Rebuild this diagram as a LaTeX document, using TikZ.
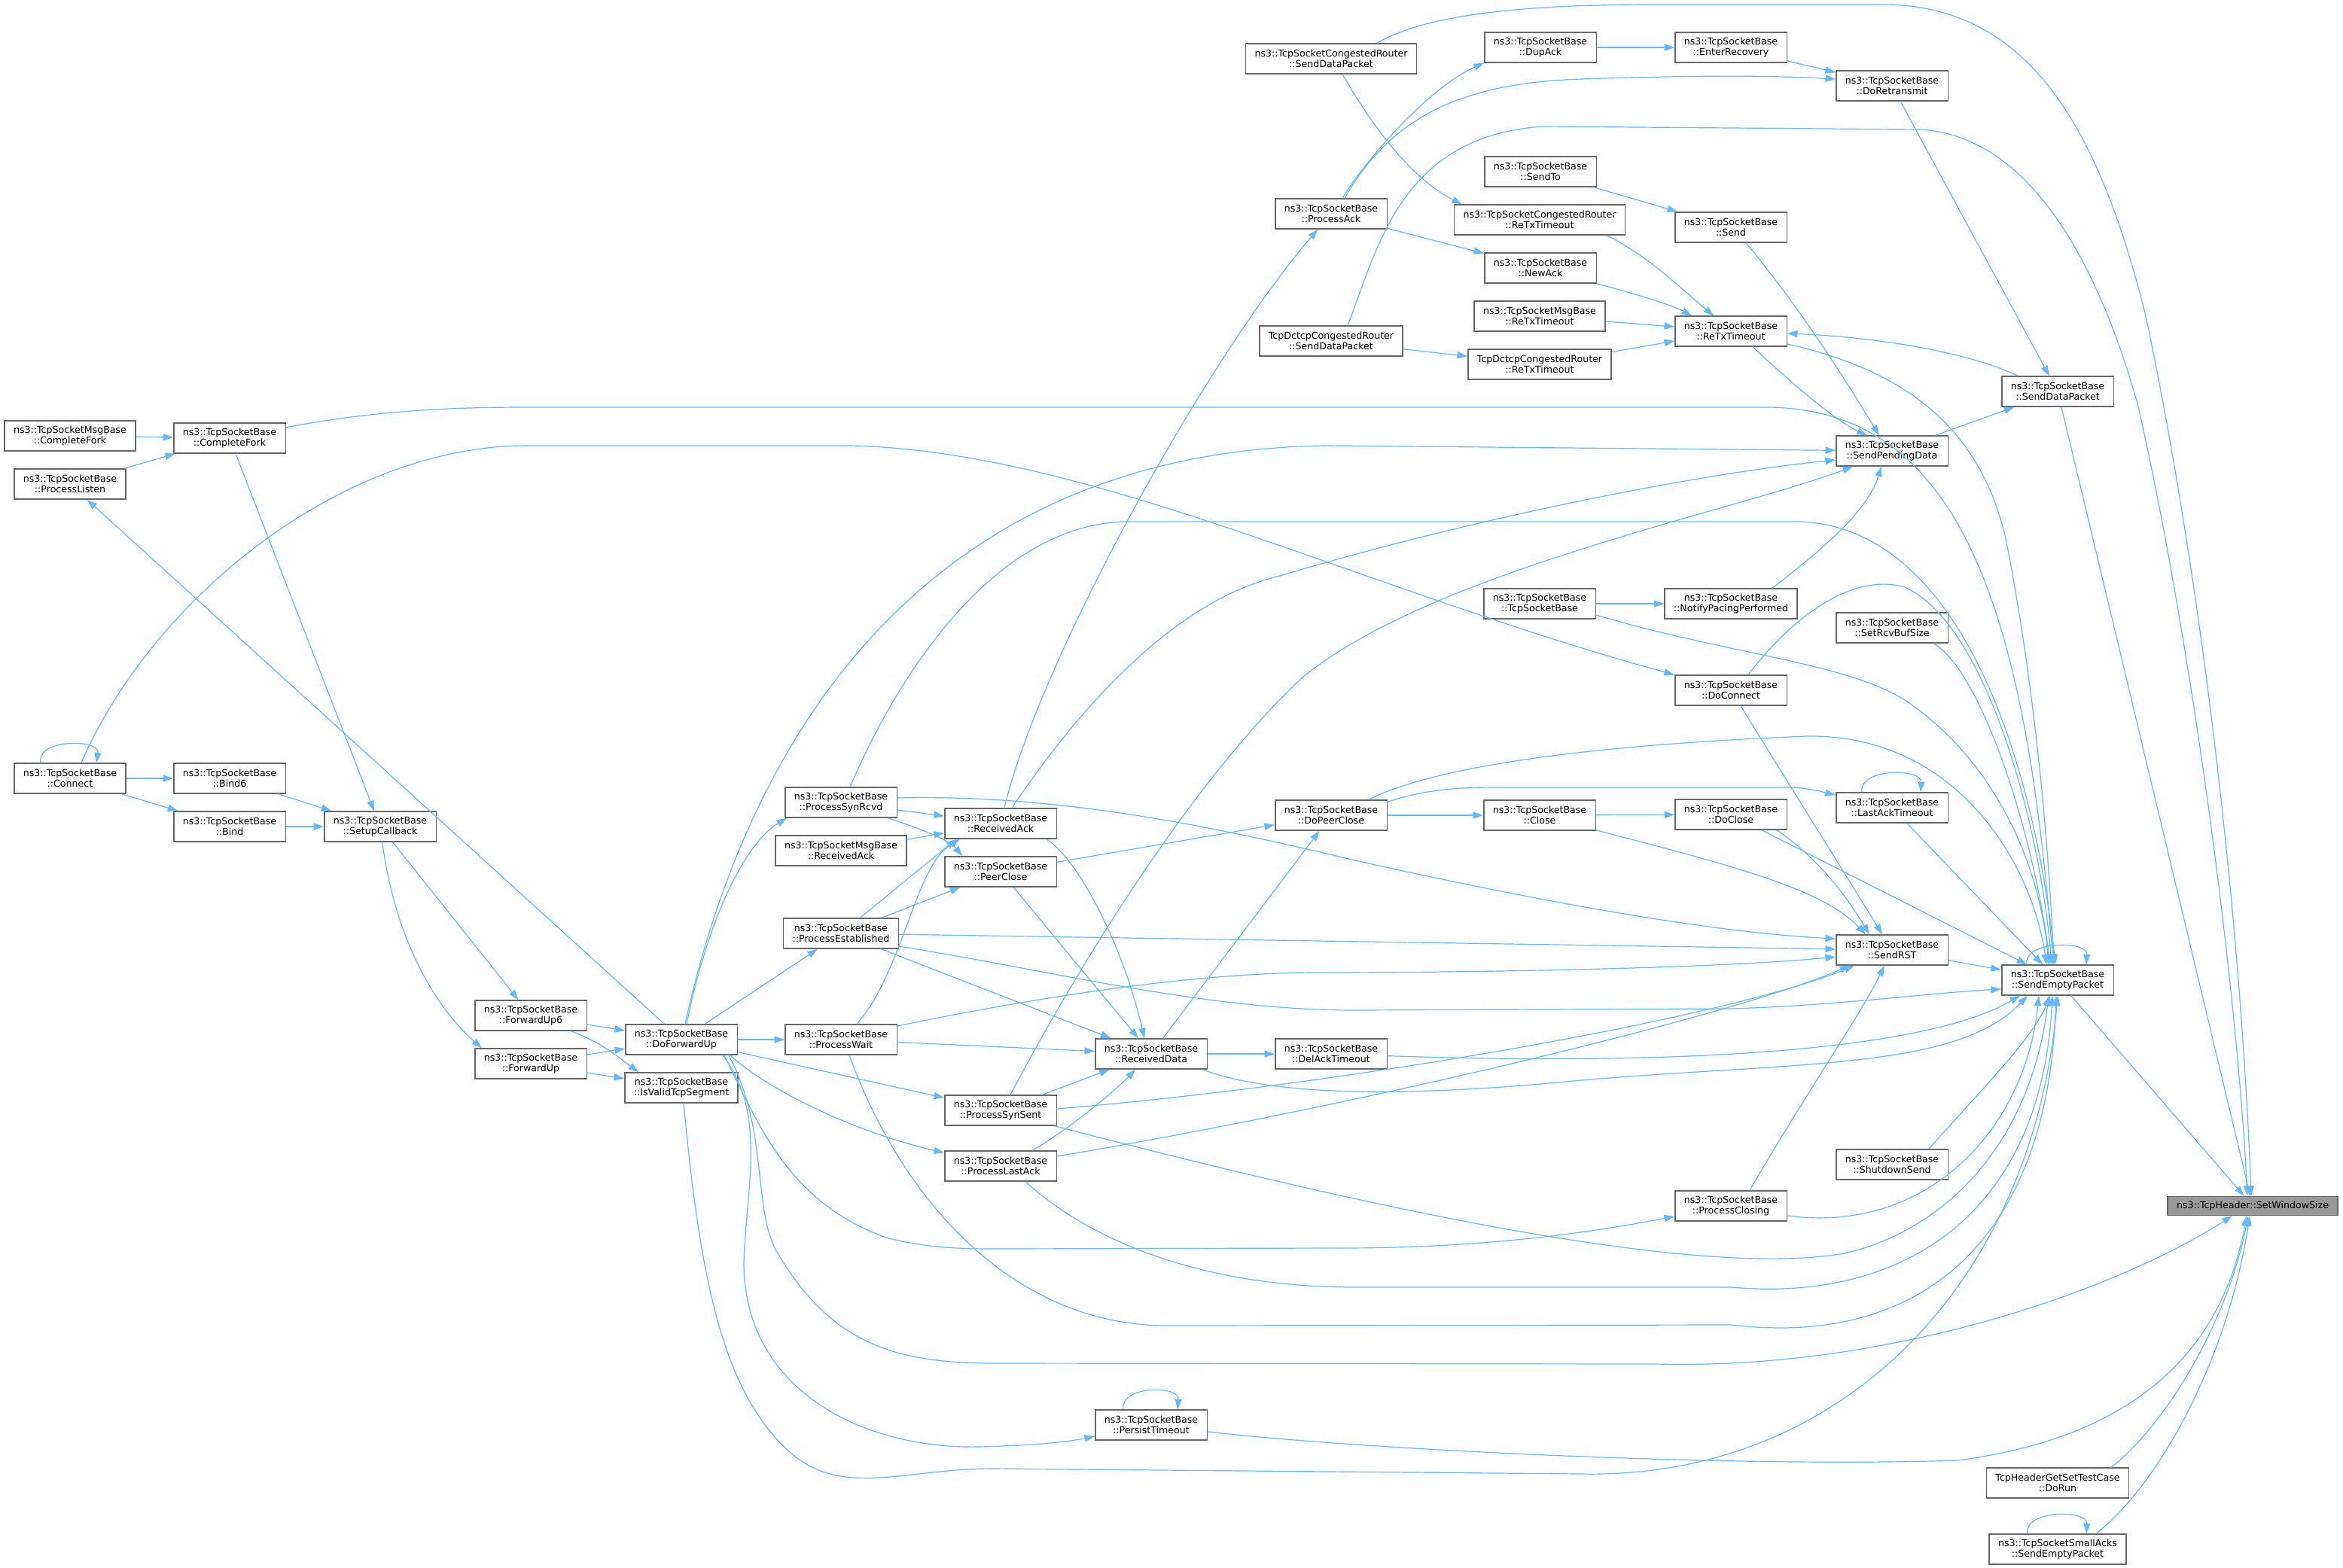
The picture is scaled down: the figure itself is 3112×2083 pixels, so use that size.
\documentclass[tikz,border=0pt]{standalone}
\usepackage{fontspec}
\setmainfont{DejaVu Sans}
\usetikzlibrary{arrows.meta,calc}
\definecolor{edgeblue}{HTML}{63B8FF}
\definecolor{boxgray}{HTML}{666666}
\definecolor{targetfill}{HTML}{999999}
\begin{document}
\begin{tikzpicture}[x=0.5pt,y=-0.5pt,
  fbox/.style={draw=boxgray,line width=0.7pt,fill=white,align=center,
    font=\fontsize{6.3pt}{7.2pt}\selectfont,inner xsep=6pt,inner ysep=1pt,minimum height=20pt},
  tg/.style={fbox,fill=targetfill,minimum height=12.5pt},
  arr/.style={draw=edgeblue,line width=0.6pt,-{Triangle[length=6.8pt,width=4.6pt]}}]
\useasboundingbox (0,0) rectangle (3112,2083);
\fill[white] (0,0) rectangle (3112,2083);

% ---------- nodes ----------
\node[tg] (setw) at (2992,1602) {ns3::TcpHeader::SetWindowSize};
\node[fbox] (crsend) at (1768,78) {ns3::TcpSocketCongestedRouter\\::SendDataPacket};
\node[fbox] (dupack) at (2046,63) {ns3::TcpSocketBase\\::DupAck};
\node[fbox] (enterrec) at (2299,63) {ns3::TcpSocketBase\\::EnterRecovery};
\node[fbox] (doretx) at (2513,114) {ns3::TcpSocketBase\\::DoRetransmit};
\node[fbox] (sendto) at (2046,228) {ns3::TcpSocketBase\\::SendTo};
\node[fbox] (crretx) at (2045,292) {ns3::TcpSocketCongestedRouter\\::ReTxTimeout};
\node[fbox] (send) at (2299,302) {ns3::TcpSocketBase\\::Send};
\node[fbox] (procack) at (1768,284) {ns3::TcpSocketBase\\::ProcessAck};
\node[fbox] (newack) at (2046,356) {ns3::TcpSocketBase\\::NewAck};
\node[fbox] (msgretx) at (2045,420) {ns3::TcpSocketMsgBase\\::ReTxTimeout};
\node[fbox] (retx) at (2299,440) {ns3::TcpSocketBase\\::ReTxTimeout};
\node[fbox] (dctcpsend) at (1768,453) {TcpDctcpCongestedRouter\\::SendDataPacket};
\node[fbox] (dctcpretx) at (2045,484) {TcpDctcpCongestedRouter\\::ReTxTimeout};
\node[fbox] (senddata) at (2733,520) {ns3::TcpSocketBase\\::SendDataPacket};
\node[fbox] (sendpend) at (2513,599) {ns3::TcpSocketBase\\::SendPendingData};
\node[fbox] (msgfork) at (93,579) {ns3::TcpSocketMsgBase\\::CompleteFork};
\node[fbox] (fork) at (305,582) {ns3::TcpSocketBase\\::CompleteFork};
\node[fbox] (listen) at (93,643) {ns3::TcpSocketBase\\::ProcessListen};
\node[fbox] (tsb) at (2045,802) {ns3::TcpSocketBase\\::TcpSocketBase};
\node[fbox] (pacing) at (2299,802) {ns3::TcpSocketBase\\::NotifyPacingPerformed};
\node[fbox] (setrcv) at (2513,834) {ns3::TcpSocketBase\\::SetRcvBufSize};
\node[fbox] (doconnect) at (2299,917) {ns3::TcpSocketBase\\::DoConnect};
\node[fbox] (connect) at (93,1034) {ns3::TcpSocketBase\\::Connect};
\node[fbox] (bind6) at (305,1034) {ns3::TcpSocketBase\\::Bind6};
\node[fbox] (bind) at (305,1098) {ns3::TcpSocketBase\\::Bind};
\node[fbox] (setup) at (505,1098) {ns3::TcpSocketBase\\::SetupCallback};
\node[fbox] (synrcvd) at (1117,1066) {ns3::TcpSocketBase\\::ProcessSynRcvd};
\node[fbox] (recvack) at (1329,1094) {ns3::TcpSocketBase\\::ReceivedAck};
\node[fbox] (msgrecvack) at (1117,1130) {ns3::TcpSocketMsgBase\\::ReceivedAck};
\node[fbox] (peerclose) at (1329,1158) {ns3::TcpSocketBase\\::PeerClose};
\node[fbox] (dopeerclose) at (1768,1083) {ns3::TcpSocketBase\\::DoPeerClose};
\node[fbox] (close) at (2045,1083) {ns3::TcpSocketBase\\::Close};
\node[fbox] (doclose) at (2299,1082) {ns3::TcpSocketBase\\::DoClose};
\node[fbox] (lastack) at (2513,1073) {ns3::TcpSocketBase\\::LastAckTimeout};
\node[fbox] (established) at (1117,1240) {ns3::TcpSocketBase\\::ProcessEstablished};
\node[fbox] (sendrst) at (2513,1262) {ns3::TcpSocketBase\\::SendRST};
\node[fbox] (sendempty) at (2733,1302) {ns3::TcpSocketBase\\::SendEmptyPacket};
\node[fbox] (fwd6) at (705,1349) {ns3::TcpSocketBase\\::ForwardUp6};
\node[fbox] (fwd) at (705,1413) {ns3::TcpSocketBase\\::ForwardUp};
\node[fbox] (doforward) at (905,1381) {ns3::TcpSocketBase\\::DoForwardUp};
\node[fbox] (isvalid) at (905,1445) {ns3::TcpSocketBase\\::IsValidTcpSegment};
\node[fbox] (wait) at (1117,1381) {ns3::TcpSocketBase\\::ProcessWait};
\node[fbox] (recvdata) at (1529,1400) {ns3::TcpSocketBase\\::ReceivedData};
\node[fbox] (delack) at (1768,1400) {ns3::TcpSocketBase\\::DelAckTimeout};
\node[fbox] (synsent) at (1329,1475) {ns3::TcpSocketBase\\::ProcessSynSent};
\node[fbox] (lastackproc) at (1329,1549) {ns3::TcpSocketBase\\::ProcessLastAck};
\node[fbox] (shutdown) at (2513,1547) {ns3::TcpSocketBase\\::ShutdownSend};
\node[fbox] (closing) at (2299,1602) {ns3::TcpSocketBase\\::ProcessClosing};
\node[fbox] (persist) at (1529,1893) {ns3::TcpSocketBase\\::PersistTimeout};
\node[fbox] (dorun) at (2733,1970) {TcpHeaderGetSetTestCase\\::DoRun};
\node[fbox] (smallacks) at (2733,2058) {ns3::TcpSocketSmallAcks\\::SendEmptyPacket};

% ---------- left cluster ----------
\draw[arr] (msgfork) -- (fork);
\draw[arr] (listen) -- (fork);
\draw[arr] (fork) -- (setup);
\draw[arr] (connect) -- (bind6);
\draw[arr] (connect) -- (bind);
\draw[arr] (bind6) -- (setup);
\draw[arr] (bind) -- (setup);
\draw[arr] (setup) -- (fwd6);
\draw[arr] (setup) .. controls (525,1250) and (580,1340) .. ($(fwd.north west)+(10,0)$);
\draw[arr] (fwd6) -- (doforward);
\draw[arr] ($(fwd6.south)+(53,0)$) .. controls (800,1385) and (822,1405) .. ($(isvalid.north west)+(19,0)$);
\draw[arr] (fwd) -- (doforward);
\draw[arr] (fwd) -- (isvalid);
\draw[arr] (doforward) -- (listen);
\draw[arr] ($(connect.north)+(-39,0)$) .. controls ($(connect.north)+(-45,-32)$) and ($(connect.north)+(40,-32)$) .. ($(connect.north)+(35,0)$);
\draw[arr] ($(connect.north)+(15,0)$) .. controls (200,800) and (450,592) .. (700,592) -- (1130,592) .. controls (1450,600) and (1800,780) .. (doconnect);
\draw[arr] (fork) .. controls (500,545) and (600,541) .. (700,541) -- (2350,541) .. controls (2600,545) and (2690,800) .. ($(sendempty.north)+(-6,0)$);

% ---------- DoForwardUp out ----------
\draw[arr] ($(doforward.north)+(7,0)$) .. controls (940,1220) and (990,1120) .. ($(synrcvd.south west)+(3,0)$);
\draw[arr] (doforward) -- (established);
\draw[arr] (doforward) -- (wait);
\draw[arr] (doforward) -- (synsent);
\draw[arr] ($(doforward.south east)+(-10,0)$) .. controls (1010,1440) and (1120,1500) .. (lastackproc);
\draw[arr] ($(doforward.north)+(5,0)$) .. controls (1000,950) and (1250,600) .. (1760,592) -- (sendpend);
\draw[arr] ($(doforward.south east)+(-18,0)$) .. controls (1010,1500) and (1050,1600) .. (1180,1645) .. controls (1230,1657) and (1270,1659) .. (1320,1659) -- (1780,1658) .. controls (2000,1658) and (2150,1630) .. ($(closing.west)+(0,14)$);
\draw[arr] ($(doforward.south east)+(-12,0)$) .. controls (1020,1500) and (1000,1600) .. (1030,1660) .. controls (1100,1780) and (1180,1811) .. (1320,1811) -- (2200,1812) .. controls (2500,1820) and (2800,1720) .. ($(setw.south)+(-27,0)$);
\draw[arr] ($(doforward.south east)+(-20,0)$) .. controls (1020,1480) and (990,1580) .. (988,1680) .. controls (990,1850) and (1150,1925) .. (1300,1922) .. controls (1380,1920) and (1420,1915) .. (persist);

% ---------- middle ----------
\draw[arr] (synrcvd) -- (recvack);
\draw[arr] (msgrecvack) -- (recvack);
\draw[arr] ($(synrcvd.south)+(62,0)$) .. controls (1220,1100) and (1260,1115) .. ($(peerclose.north west)+(24,0)$);
\draw[arr] (established) -- ($(recvack.south west)+(16,0)$);
\draw[arr] (established) -- (peerclose);
\draw[arr] ($(wait.north)+(21,0)$) .. controls (1200,1290) and (1215,1150) .. ($(recvack.south west)+(21,0)$);
\draw[arr] (wait) -- (recvdata);
\draw[arr] (established) -- (recvdata);
\draw[arr] ($(recvack.south)+(61,0)$) .. controls (1430,1140) and (1490,1250) .. ($(recvdata.north)+(-9,0)$);
\draw[arr] (peerclose) -- (recvdata);
\draw[arr] (synsent) -- (recvdata);
\draw[arr] ($(lastackproc.north)+(42,0)$) .. controls (1420,1500) and (1480,1450) .. ($(recvdata.south)+(-21,0)$);
\draw[arr] (recvdata) -- (delack);
\draw[arr] (recvdata) -- (dopeerclose);
\draw[arr] (peerclose) -- (dopeerclose);
\draw[arr] (dopeerclose) -- (close);
\draw[arr] (close) -- (doclose);

\draw[arr] (recvack) .. controls (1380,880) and (1600,480) .. (procack);
\draw[arr] ($(recvack.north)+(15,0)$) .. controls (1420,960) and (1550,800) .. (1700,765) .. controls (1950,690) and (2250,630) .. ($(sendpend.west)+(0,12)$);
\draw[arr] ($(synsent.north)+(13,0)$) .. controls (1450,1250) and (1600,1020) .. (1730,900) .. controls (1900,760) and (2300,680) .. ($(sendpend.south)+(-52,0)$);

\draw[arr] ($(synrcvd.east)+(0,-6)$) .. controls (1400,1055) and (1600,1095) .. (1800,1143) .. controls (2100,1210) and (2300,1240) .. ($(sendrst.west)+(0,-15)$);
\draw[arr] ($(synrcvd.north)+(12,0)$) .. controls (1200,880) and (1330,693) .. (1500,693) -- (2390,693) .. controls (2600,700) and (2700,1000) .. ($(sendempty.north)+(-3,0)$);
\draw[arr] (established) -- (sendrst);
\draw[arr] ($(established.east)+(0,17)$) .. controls (1400,1290) and (1600,1342) .. (1800,1342) -- (2300,1340) .. controls (2450,1335) and (2550,1320) .. ($(sendempty.west)+(0,12)$);
\draw[arr] ($(wait.east)+(0,-18)$) .. controls (1400,1320) and (1600,1292) .. (1750,1292) .. controls (2000,1292) and (2300,1285) .. ($(sendrst.west)+(0,9)$);
\draw[arr] ($(wait.south)+(11,0)$) .. controls (1200,1600) and (1350,1761) .. (1550,1761) -- (2300,1760) .. controls (2550,1790) and (2720,1650) .. ($(sendempty.south)+(-2,0)$);
\draw[arr] ($(synsent.east)+(0,-2)$) .. controls (1800,1440) and (2300,1350) .. ($(sendrst.south)+(-50,0)$);
\draw[arr] ($(synsent.south east)+(-3,0)$) .. controls (1800,1600) and (2250,1700) .. (2450,1665) .. controls (2600,1630) and (2700,1500) .. ($(sendempty.south)+(-12,0)$);
\draw[arr] ($(lastackproc.east)+(0,-13)$) .. controls (1800,1470) and (2300,1350) .. ($(sendrst.south)+(-56,0)$);
\draw[arr] ($(lastackproc.south)+(33,0)$) .. controls (1450,1650) and (1600,1710) .. (1800,1710) -- (2300,1710) .. controls (2520,1730) and (2710,1620) .. ($(sendempty.south)+(-7,0)$);
\draw[arr] ($(recvdata.south east)+(-7,0)$) .. controls (1700,1460) and (1900,1455) .. (2100,1435) .. controls (2400,1410) and (2600,1420) .. ($(sendempty.south)+(-40,0)$);
\draw[arr] (delack) .. controls (2200,1415) and (2550,1400) .. ($(sendempty.south)+(-50,0)$);

% ---------- right ----------
\draw[arr] ($(dopeerclose.north east)+(0,3)$) .. controls (1900,1046) and (1950,1046) .. (2000,1046) -- (2380,1046) .. controls (2410,1048) and (2420,1052) .. (lastack);
\draw[arr] ($(dopeerclose.north)+(50,0)$) .. controls (1900,1020) and (2100,990) .. (2400,978) .. controls (2600,975) and (2700,1150) .. ($(sendempty.north)+(-15,0)$);
\draw[arr] (close) .. controls (2300,1150) and (2420,1180) .. ($(sendrst.north)+(-35,0)$);
\draw[arr] ($(doclose.south)+(61,0)$) .. controls (2400,1130) and (2440,1170) .. ($(sendrst.north)+(-30,0)$);
\draw[arr] (doclose) -- (sendempty);
\draw[arr] (doconnect) -- (sendrst);
\draw[arr] ($(doconnect.north)+(23,0)$) .. controls (2380,820) and (2460,760) .. (2530,780) .. controls (2640,830) and (2710,1100) .. ($(sendempty.north)+(-8,0)$);
\draw[arr] (tsb) -- (pacing);
\draw[arr] ($(tsb.east)+(0,15)$) .. controls (2300,870) and (2450,880) .. (2530,930) .. controls (2650,1010) and (2710,1150) .. ($(sendempty.north)+(-12,0)$);
\draw[arr] ($(pacing.north)+(55,0)$) .. controls (2420,730) and (2480,680) .. ($(sendpend.south)+(-14,0)$);
\draw[arr] ($(setrcv.south)+(55,0)$) .. controls (2630,890) and (2700,1100) .. ($(sendempty.north)+(-10,0)$);
\draw[arr] (lastack) -- (sendempty);
\draw[arr] ($(lastack.north)+(-40,0)$) .. controls ($(lastack.north)+(-45,-32)$) and ($(lastack.north)+(40,-32)$) .. ($(lastack.north)+(38,0)$);
\draw[arr] (sendrst) -- (sendempty);
\draw[arr] ($(sendempty.north)+(-41,0)$) .. controls ($(sendempty.north)+(-46,-32)$) and ($(sendempty.north)+(40,-32)$) .. ($(sendempty.north)+(38,0)$);
\draw[arr] (sendempty) -- (setw);
\draw[arr] ($(closing.north)+(25,0)$) .. controls (2400,1450) and (2470,1350) .. (sendrst);
\draw[arr] ($(closing.east)+(0,13)$) .. controls (2560,1640) and (2690,1500) .. ($(sendempty.south)+(-25,0)$);
\draw[arr] ($(shutdown.north)+(49,0)$) .. controls (2620,1460) and (2700,1380) .. ($(sendempty.south)+(-10,0)$);
\draw[arr] ($(persist.north)+(-37,0)$) .. controls ($(persist.north)+(-42,-32)$) and ($(persist.north)+(38,-32)$) .. ($(persist.north)+(35,0)$);
\draw[arr] (persist) .. controls (1800,1925) and (2300,1950) .. (2600,1940) .. controls (2830,1910) and (2950,1800) .. ($(setw.south)+(-8,0)$);
\draw[arr] ($(isvalid.south)+(3,0)$) .. controls (930,1700) and (960,1850) .. (1050,1930) .. controls (1120,1990) and (1200,1951) .. (1320,1951) -- (2100,1958) .. controls (2450,1965) and (2700,1700) .. ($(sendempty.south)+(0,0)$);
\draw[arr] ($(dorun.north)+(71,0)$) .. controls (2880,1890) and (2960,1750) .. ($(setw.south)+(-6,0)$);
\draw[arr] ($(smallacks.north)+(51,0)$) .. controls (2870,1970) and (2960,1800) .. ($(setw.south)+(-4,0)$);
\draw[arr] ($(smallacks.north)+(-40,0)$) .. controls ($(smallacks.north)+(-45,-32)$) and ($(smallacks.north)+(40,-32)$) .. ($(smallacks.north)+(38,0)$);

% ---------- top ----------
\draw[arr] ($(crsend.south)+(15,0)$) .. controls (1830,180) and (1880,240) .. ($(crretx.north west)+(11,0)$);
\draw[arr] ($(crsend.north)+(61,0)$) .. controls (1900,15) and (2050,6) .. (2200,6) -- (2500,6) .. controls (2700,6) and (2790,180) .. (2850,420) .. controls (2920,750) and (2975,1200) .. ($(setw.north)+(-2,0)$);
\draw[arr] ($(procack.north)+(15,0)$) .. controls (1815,210) and (1900,115) .. (dupack.south west);
\draw[arr] ($(procack.north)+(18,0)$) .. controls (1850,150) and (1950,110) .. (2100,105) .. controls (2250,100) and (2350,100) .. ($(doretx.west)+(0,-9)$);
\draw[arr] (procack) -- (newack);
\draw[arr] (dupack) -- (enterrec);
\draw[arr] (enterrec) -- (doretx);
\draw[arr] (doretx) -- (senddata);
\draw[arr] (sendto) -- (send);
\draw[arr] ($(crretx.south east)+(-25,0)$) .. controls (2190,340) and (2240,390) .. ($(retx.north west)+(52,0)$);
\draw[arr] (newack.south east) .. controls (2170,390) and (2220,405) .. ($(retx.north west)+(23,0)$);
\draw[arr] (msgretx) -- (retx);
\draw[arr] (dctcpsend) -- (dctcpretx);
\draw[arr] ($(dctcpsend.north)+(22,0)$) .. controls (1830,330) and (1860,180) .. (2050,168) -- (2550,172) .. controls (2700,180) and (2790,360) .. (2840,540) .. controls (2910,850) and (2970,1300) .. ($(setw.north)+(-7,0)$);
\draw[arr] (dctcpretx) -- (retx);
\draw[arr] ($(senddata.north west)+(22,0)$) .. controls (2620,470) and (2500,448) .. (retx);
\draw[arr] ($(send.south)+(20,0)$) .. controls (2400,420) and (2460,520) .. ($(sendpend.north)+(-17,0)$);
\draw[arr] ($(retx.south)+(29,0)$) .. controls (2380,510) and (2440,560) .. ($(sendpend.north)+(-33,0)$);
\draw[arr] ($(retx.east)+(0,17)$) .. controls (2520,490) and (2630,560) .. (2665,720) .. controls (2700,900) and (2720,1100) .. ($(sendempty.north)+(-5,0)$);
\draw[arr] (sendpend) -- (senddata);
\draw[arr] (senddata) -- (setw);
\end{tikzpicture}
\end{document}
